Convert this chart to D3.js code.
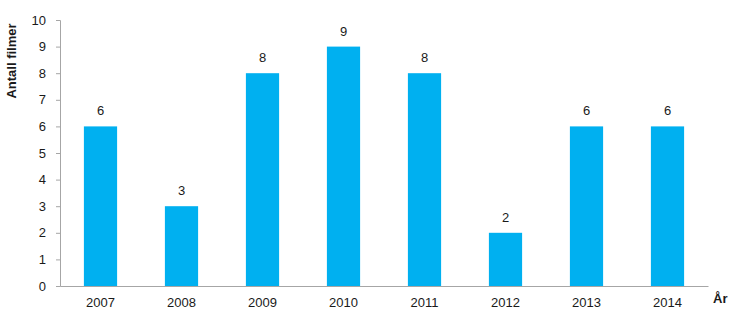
<!DOCTYPE html>
<html>
<head>
<meta charset="utf-8">
<script src="https://cdn.jsdelivr.net/npm/d3@7"></script>
<style>
	body { margin: 0; background: #fff; }
	svg text { font-family: "Liberation Sans", Arial, sans-serif; fill: #1a1a1a; }
	.axis path, .axis line { stroke: #a6a6a6; }
</style>
</head>
<body>
<svg id="graph-container" width="730" height="325"></svg>
<script>
var years = ["2007", "2008", "2009", "2010", "2011", "2012", "2013", "2014"];
var films = [6, 3, 8, 9, 8, 2, 6, 6];
var yTicks = [0, 1, 2, 3, 4, 5, 6, 7, 8, 9, 10];

var margin = {top: 20, right: 22, bottom: 39, left: 60},
	width = 730 - margin.left - margin.right,
	height = 325 - margin.top - margin.bottom;

var xScale = d3.scaleBand().domain(years).range([0, width]).paddingInner(0.59).paddingOuter(0.295);
var yScale = d3.scaleLinear().domain([0, 10]).range([height, 0]);

var svg = d3.select("#graph-container")
	.append("g")
	.attr("transform", "translate(" + margin.left + "," + margin.top + ")");

var yAxis = svg.append("g")
	.attr("class", "y axis")
	.call(d3.axisLeft(yScale).tickValues(yTicks).tickSize(4).tickPadding(10));
yAxis.selectAll("text").style("font-size", "13px");

var xAxis = svg.append("g")
	.attr("class", "x axis")
	.attr("transform", "translate(0," + height + ")")
	.call(d3.axisBottom(xScale).tickSize(0).tickSizeOuter(0).tickPadding(12));
xAxis.selectAll("text").style("font-size", "13px");

svg.selectAll(".bar")
	.data(films)
	.enter().append("rect")
	.attr("class", "bar")
	.attr("x", function(d, i) { return xScale(years[i]); })
	.attr("width", xScale.bandwidth())
	.attr("y", function(d) { return yScale(d); })
	.attr("height", function(d) { return height - yScale(d); })
	.style("fill", "#00b0f0");

svg.selectAll(".value")
	.data(films)
	.enter().append("text")
	.attr("class", "value")
	.attr("x", function(d, i) { return xScale(years[i]) + xScale.bandwidth() / 2; })
	.attr("y", function(d) { return yScale(d) - 11; })
	.attr("text-anchor", "middle")
	.style("font-size", "13px")
	.text(function(d) { return d; });

svg.append("text")
	.attr("transform", "translate(-44," + (height / 2 - 92) + ") rotate(-90)")
	.attr("text-anchor", "middle")
	.style("font-size", "13px")
	.style("font-weight", "bold")
	.text("Antall filmer");

svg.append("text")
	.attr("x", width + 5)
	.attr("y", height + 17)
	.style("font-size", "13px")
	.style("font-weight", "bold")
	.text("År");
</script>
</body>
</html>
